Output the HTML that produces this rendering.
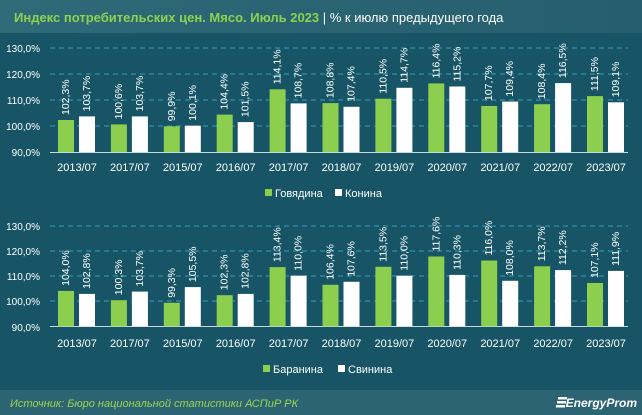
<!DOCTYPE html>
<html><head><meta charset="utf-8"><style>
html,body{margin:0;padding:0;width:642px;height:415px;overflow:hidden;background:#175566;font-family:"Liberation Sans",sans-serif}
</style></head><body>
<svg width="642" height="415" viewBox="0 0 642 415" xmlns="http://www.w3.org/2000/svg" font-family="Liberation Sans, sans-serif">
<defs>
<linearGradient id="hd" x1="0" x2="1"><stop offset="0" stop-color="#2f6a79"/><stop offset="1" stop-color="#255e6e"/></linearGradient>
</defs>
<rect width="642" height="415" fill="#175566"/>
<rect width="642" height="33" fill="url(#hd)"/>
<text x="14" y="22" font-size="13" font-weight="bold" fill="#8fd14f">Индекс потребительских цен. Мясо. Июль 2023 <tspan fill="#ffffff" font-weight="normal">| % к июлю предыдущего года</tspan></text>
<rect y="390" width="642" height="25" fill="#2c6473"/>
<text x="10" y="407" font-size="11" font-style="italic" fill="#9dd44f">Источник: Бюро национальной статистики АСПиР РК</text>
<text x="637" y="407" font-size="12" font-style="italic" font-weight="bold" fill="#ffffff" text-anchor="end">EnergyProm</text>
<g fill="#fff"><rect x="558" y="397" width="9" height="2.5"/><rect x="557" y="401" width="9" height="2.5"/><rect x="556" y="405" width="9" height="2.5"/></g>

<g font-size="10" fill="#fff" text-anchor="end">
<text x="40" y="52">130,0%</text><text x="40" y="78">120,0%</text><text x="40" y="104">110,0%</text><text x="40" y="130">100,0%</text><text x="40" y="156">90,0%</text>
<text x="40" y="230">130,0%</text><text x="40" y="255">120,0%</text><text x="40" y="280">110,0%</text><text x="40" y="305">100,0%</text><text x="40" y="331">90,0%</text>
</g>
<g stroke="#3aa0c0" stroke-width="1" stroke-dasharray="5,4">
<line x1="50" x2="628" y1="48" y2="48"/><line x1="50" x2="628" y1="74" y2="74"/><line x1="50" x2="628" y1="100" y2="100"/><line x1="50" x2="628" y1="126" y2="126"/>
<line x1="50" x2="628" y1="226" y2="226"/><line x1="50" x2="628" y1="251" y2="251"/><line x1="50" x2="628" y1="276" y2="276"/><line x1="50" x2="628" y1="301" y2="301"/>
</g>
<line x1="50" x2="628" y1="152.5" y2="152.5" stroke="#c8d8dc"/>
<line x1="50" x2="628" y1="326.5" y2="326.5" stroke="#c8d8dc"/>

<g fill="#8ccf4e">
<rect x="58" y="120.0" width="16" height="32"/><rect x="110.9" y="124.4" width="16" height="27.6"/><rect x="163.8" y="126.3" width="16" height="25.7"/><rect x="216.7" y="114.6" width="16" height="37.4"/><rect x="269.6" y="89.3" width="16" height="62.7"/><rect x="322.5" y="103.1" width="16" height="48.9"/><rect x="375.4" y="98.7" width="16" height="53.3"/><rect x="428.3" y="83.4" width="16" height="68.6"/><rect x="481.2" y="106.0" width="16" height="46"/><rect x="534.1" y="104.2" width="16" height="47.8"/><rect x="587" y="96.1" width="16" height="55.9"/>
<rect x="58" y="290.9" width="16" height="35.4"/><rect x="110.9" y="300.2" width="16" height="26.1"/><rect x="163.8" y="302.8" width="16" height="23.5"/><rect x="216.7" y="295.2" width="16" height="31.1"/><rect x="269.6" y="267.1" width="16" height="59.2"/><rect x="322.5" y="284.8" width="16" height="41.5"/><rect x="375.4" y="266.8" width="16" height="59.5"/><rect x="428.3" y="256.5" width="16" height="69.8"/><rect x="481.2" y="260.5" width="16" height="65.8"/><rect x="534.1" y="266.3" width="16" height="60"/><rect x="587" y="283.0" width="16" height="43.3"/>
</g>
<g fill="#ffffff">
<rect x="79" y="116.4" width="16" height="35.6"/><rect x="131.9" y="116.4" width="16" height="35.6"/><rect x="184.8" y="125.7" width="16" height="26.3"/><rect x="237.7" y="122.1" width="16" height="29.9"/><rect x="290.6" y="103.4" width="16" height="48.6"/><rect x="343.5" y="106.8" width="16" height="45.2"/><rect x="396.4" y="87.8" width="16" height="64.2"/><rect x="449.3" y="86.5" width="16" height="65.5"/><rect x="502.2" y="101.6" width="16" height="50.4"/><rect x="555.1" y="83.1" width="16" height="68.9"/><rect x="608" y="102.3" width="16" height="49.7"/>
<rect x="79" y="293.9" width="16" height="32.4"/><rect x="131.9" y="291.6" width="16" height="34.7"/><rect x="184.8" y="287.1" width="16" height="39.2"/><rect x="237.7" y="293.9" width="16" height="32.4"/><rect x="290.6" y="275.7" width="16" height="50.6"/><rect x="343.5" y="281.8" width="16" height="44.5"/><rect x="396.4" y="275.7" width="16" height="50.6"/><rect x="449.3" y="274.9" width="16" height="51.4"/><rect x="502.2" y="280.8" width="16" height="45.5"/><rect x="555.1" y="270.1" width="16" height="56.2"/><rect x="608" y="270.9" width="16" height="55.4"/>
</g>

<g font-size="10.5" fill="#fff" dominant-baseline="central">
<text transform="translate(66,115) rotate(-90)">102,3%</text>
<text transform="translate(87,111.4) rotate(-90)">103,7%</text>
<text transform="translate(118.9,119.4) rotate(-90)">100,6%</text>
<text transform="translate(139.9,111.4) rotate(-90)">103,7%</text>
<text transform="translate(171.8,121.3) rotate(-90)">99,9%</text>
<text transform="translate(192.8,120.7) rotate(-90)">100,1%</text>
<text transform="translate(224.7,109.6) rotate(-90)">104,4%</text>
<text transform="translate(245.7,117.1) rotate(-90)">101,5%</text>
<text transform="translate(277.6,84.3) rotate(-90)">114,1%</text>
<text transform="translate(298.6,98.4) rotate(-90)">108,7%</text>
<text transform="translate(330.5,98.1) rotate(-90)">108,8%</text>
<text transform="translate(351.5,101.8) rotate(-90)">107,4%</text>
<text transform="translate(383.4,93.7) rotate(-90)">110,5%</text>
<text transform="translate(404.4,82.8) rotate(-90)">114,7%</text>
<text transform="translate(436.3,78.4) rotate(-90)">116,4%</text>
<text transform="translate(457.3,81.5) rotate(-90)">115,2%</text>
<text transform="translate(489.2,101) rotate(-90)">107,7%</text>
<text transform="translate(510.2,96.6) rotate(-90)">109,4%</text>
<text transform="translate(542.1,99.2) rotate(-90)">108,4%</text>
<text transform="translate(563.1,78.1) rotate(-90)">116,5%</text>
<text transform="translate(595,91.1) rotate(-90)">111,5%</text>
<text transform="translate(616,97.3) rotate(-90)">109,1%</text>

<text transform="translate(66,285.9) rotate(-90)">104,0%</text>
<text transform="translate(87,288.9) rotate(-90)">102,8%</text>
<text transform="translate(118.9,295.2) rotate(-90)">100,3%</text>
<text transform="translate(139.9,286.6) rotate(-90)">103,7%</text>
<text transform="translate(171.8,297.8) rotate(-90)">99,3%</text>
<text transform="translate(192.8,282.1) rotate(-90)">105,5%</text>
<text transform="translate(224.7,290.2) rotate(-90)">102,3%</text>
<text transform="translate(245.7,288.9) rotate(-90)">102,8%</text>
<text transform="translate(277.6,262.1) rotate(-90)">113,4%</text>
<text transform="translate(298.6,270.7) rotate(-90)">110,0%</text>
<text transform="translate(330.5,279.8) rotate(-90)">106,4%</text>
<text transform="translate(351.5,276.8) rotate(-90)">107,6%</text>
<text transform="translate(383.4,261.8) rotate(-90)">113,5%</text>
<text transform="translate(404.4,270.7) rotate(-90)">110,0%</text>
<text transform="translate(436.3,251.5) rotate(-90)">117,6%</text>
<text transform="translate(457.3,269.9) rotate(-90)">110,3%</text>
<text transform="translate(489.2,255.5) rotate(-90)">116,0%</text>
<text transform="translate(510.2,275.8) rotate(-90)">108,0%</text>
<text transform="translate(542.1,261.3) rotate(-90)">113,7%</text>
<text transform="translate(563.1,265.1) rotate(-90)">112,2%</text>
<text transform="translate(595,278) rotate(-90)">107,1%</text>
<text transform="translate(616,265.9) rotate(-90)">111,9%</text>
</g>

<g font-size="11" fill="#fff" text-anchor="middle">
<text x="77" y="171">2013/07</text><text x="129.9" y="171">2017/07</text><text x="182.8" y="171">2015/07</text><text x="235.7" y="171">2016/07</text><text x="288.6" y="171">2017/07</text><text x="341.5" y="171">2018/07</text><text x="394.4" y="171">2019/07</text><text x="447.3" y="171">2020/07</text><text x="500.2" y="171">2021/07</text><text x="553.1" y="171">2022/07</text><text x="606" y="171">2023/07</text>
<text x="77" y="347">2013/07</text><text x="129.9" y="347">2017/07</text><text x="182.8" y="347">2015/07</text><text x="235.7" y="347">2016/07</text><text x="288.6" y="347">2017/07</text><text x="341.5" y="347">2018/07</text><text x="394.4" y="347">2019/07</text><text x="447.3" y="347">2020/07</text><text x="500.2" y="347">2021/07</text><text x="553.1" y="347">2022/07</text><text x="606" y="347">2023/07</text>
</g>

<g font-size="11" fill="#fff">
<rect x="265" y="189" width="7" height="7" fill="#8ccf4e"/><text x="275" y="197">Говядина</text>
<rect x="335" y="189" width="7" height="7" fill="#fff"/><text x="345" y="197">Конина</text>
<rect x="263" y="365" width="7" height="7" fill="#8ccf4e"/><text x="273" y="373">Баранина</text>
<rect x="338" y="365" width="7" height="7" fill="#fff"/><text x="348" y="373">Свинина</text>
</g>
</svg>
</body></html>
